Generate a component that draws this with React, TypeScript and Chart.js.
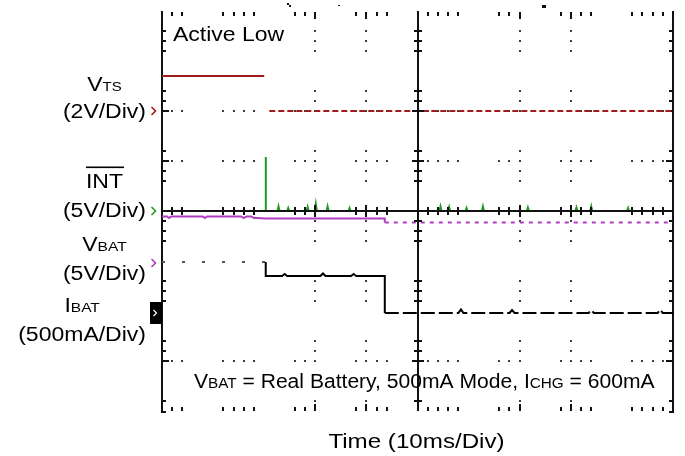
import { useEffect, useRef } from "react";
import { Chart, registerables } from "chart.js";

Chart.register(...registerables);

const WIDTH = 685;
const HEIGHT = 456;
const FONT = '"Liberation Sans", Arial, Helvetica, sans-serif';

// Time base: 10 ms/div over 10 divisions
const TIME_MIN = 0;
const TIME_MAX = 100;

// V_TS (V), 2 V/div
const vtsTime = [0, 20.0, 20.5, 21.0, 100];
const vtsVolts = [1.4, 1.4, null, 0, 0];

// /INT (V), 5 V/div
const intTime = [
  0, 20.3, 20.3, 20.33,
  22.6, 22.8, 23.0, 24.5, 24.7, 24.9, 28.3, 28.5, 28.7, 29.9, 30.1, 30.3,
  32.2, 32.4, 32.6, 36.5, 36.7, 36.9, 54.3, 54.5, 54.7, 56.0, 56.2, 56.4,
  59.4, 59.6, 59.8, 62.6, 62.8, 63.0, 71.4, 71.6, 71.8, 80.9, 81.1, 81.3,
  83.8, 84.0, 84.2, 91.0, 91.2, 91.4, 100,
];
const intVolts = [
  0, 0, 5.4, 0,
  0, 0.45, 0, 0, 0.3, 0, 0, 0.4, 0, 0, 0.7, 0,
  0, 0.45, 0, 0, 0.3, 0, 0, 0.45, 0, 0, 0.4, 0,
  0, 0.3, 0, 0, 0.45, 0, 0, 0.35, 0, 0, 0.35, 0,
  0, 0.45, 0, 0, 0.3, 0, 0,
];

// V_BAT (V), 5 V/div
const vbatTime = [0, 1.0, 1.4, 1.8, 8.0, 8.4, 8.8, 15.5, 16.0, 16.5, 17.5, 18.0, 18.5, 20.3, 43.6, 43.6, 100];
const vbatVolts = [4.65, 4.65, 4.5, 4.65, 4.65, 4.5, 4.65, 4.65, 4.5, 4.65, 4.65, 4.5, 4.5, 4.45, 4.45, 4.05, 4.05];

// I_BAT (mA), 500 mA/div
const ibatTime = [0, 20.3, 20.3, 23.5, 24, 24.5, 31, 31.5, 32, 37, 37.5, 38, 43.6, 43.6, 58, 58.5, 59, 68, 68.5, 69, 83.5, 84, 84.5, 97, 97.5, 98, 100];
const ibatMilliamps = [510, 510, 370, 370, 390, 370, 370, 395, 370, 370, 390, 370, 370, 0, 0, 35, 0, 0, 30, 0, 0, 30, 0, 0, 35, 0, 0];

// Channel settings: units per division and ground level (divisions from screen centre)
const vtsPerDiv = 2;
const vtsGround = 2;
const intPerDiv = 5;
const intGround = 0;
const vbatPerDiv = 5;
const vbatGround = -1.04;
const ibatPerDiv = 500;
const ibatGround = -2.04;

// Channel captions
const channelScaleLabels = ["(2V/Div)", "(5V/Div)", "(5V/Div)", "(500mA/Div)"];
const titleText = "Active Low";
const axisTitle = "Time (10ms/Div)";

const COLORS = {
  vts: "#a01c1c",
  int: "#1f9a1f",
  vbat: "#b03cc0",
  ibat: "#000000",
  grid: "#3c3c3c",
  frame: "#111111",
};

const toPoints = (xs: number[], ys: (number | null)[]) => xs.map((x, i) => ({ x, y: ys[i] }));

const axisRange = (perDiv: number, ground: number) => ({
  min: (-4 - ground) * perDiv,
  max: (4 - ground) * perDiv,
});

// Minor-mark visibility along each axis (sparse dotted graticule)
const showMinorX = (k: number) => {
  const p = 20 / 3;
  return ((((k - 2.5) % p) + p) % p) >= 3;
};
const showMinorY = (j: number) => {
  const p = 6.25;
  return ((((j - 4.7) % p) + p) % p) >= 2.9;
};

type Run = { text: string; size: number };

function runsWidth(ctx: CanvasRenderingContext2D, runs: Run[]) {
  let w = 0;
  for (const r of runs) {
    ctx.font = `${r.size}px ${FONT}`;
    w += ctx.measureText(r.text).width;
  }
  return w;
}

function drawRuns(
  ctx: CanvasRenderingContext2D,
  runs: Run[],
  x: number,
  baseline: number,
  align: "left" | "center" | "right",
  scaleX: number
) {
  const w = runsWidth(ctx, runs) * scaleX;
  const left = align === "left" ? x : align === "center" ? x - w / 2 : x - w;
  ctx.save();
  ctx.translate(left, baseline);
  ctx.scale(scaleX, 1);
  ctx.textAlign = "left";
  ctx.textBaseline = "alphabetic";
  ctx.fillStyle = "#000";
  let cx = 0;
  for (const r of runs) {
    ctx.font = `${r.size}px ${FONT}`;
    ctx.fillText(r.text, cx, 0);
    cx += ctx.measureText(r.text).width;
  }
  ctx.restore();
  return { left, width: w };
}

const scopePlugin = {
  id: "scopeScreen",
  beforeDatasetsDraw(chart: any) {
    const { ctx, chartArea } = chart;
    const { left: L, right: R, top: T, bottom: B } = chartArea;
    const sx = (R - L) / 50;
    const sy = (B - T) / 40;
    const px = (k: number) => Math.round(L + k * sx);
    const py = (j: number) => Math.round(T + j * sy);
    ctx.save();
    // dotted rows and columns
    ctx.fillStyle = COLORS.grid;
    for (let j = 5; j < 40; j += 5) {
      if (j === 20 || !showMinorY(j)) continue;
      for (let k = 1; k < 50; k++) {
        if (k === 25 || !showMinorX(k)) continue;
        ctx.fillRect(px(k) - 1, py(j) - 1, 2, 2);
      }
    }
    for (let k = 5; k < 50; k += 5) {
      if (k === 25 || !showMinorX(k)) continue;
      for (let j = 1; j < 40; j++) {
        if (j === 20 || !showMinorY(j)) continue;
        ctx.fillRect(px(k) - 1, py(j) - 1, 2, 2);
      }
    }
    // frame ticks
    ctx.fillStyle = COLORS.frame;
    for (let k = 1; k < 50; k++) {
      if (!showMinorX(k)) continue;
      const len = k % 5 === 0 ? 7 : 4;
      ctx.fillRect(px(k) - 1, T + 1, 2, len);
      ctx.fillRect(px(k) - 1, B - len, 2, len);
    }
    for (let j = 1; j < 40; j++) {
      if (!showMinorY(j)) continue;
      const len = j % 5 === 0 ? 7 : 4;
      ctx.fillRect(L, py(j) - 1, len, 2);
      ctx.fillRect(R - len, py(j) - 1, len, 2);
    }
    // side frame lines with bottom corners
    ctx.fillRect(Math.round(L) - 1, T, 2, B - T + 2);
    ctx.fillRect(Math.round(R) - 1, T, 2, B - T + 2);
    ctx.fillRect(Math.round(L) - 1, B, 5, 2);
    ctx.fillRect(Math.round(R) - 4, B, 5, 2);
    ctx.restore();
  },
  afterDatasetsDraw(chart: any) {
    const { ctx, chartArea, scales } = chart;
    const { left: L, right: R, top: T, bottom: B } = chartArea;
    const sx = (R - L) / 50;
    const sy = (B - T) / 40;
    const px = (k: number) => Math.round(L + k * sx);
    const py = (j: number) => Math.round(T + j * sy);
    const cx = px(25);
    const cy = py(20);
    ctx.save();
    ctx.fillStyle = COLORS.frame;
    // centre cross
    ctx.fillRect(L, cy - 1, R - L, 2);
    ctx.fillRect(cx - 1, T, 2, B - T);
    for (let k = 1; k < 50; k++) {
      if (!showMinorX(k)) continue;
      const len = k % 5 === 0 ? 6 : 4;
      ctx.fillRect(px(k) - 1, cy - len, 2, 2 * len);
    }
    for (let j = 1; j < 40; j++) {
      if (!showMinorY(j)) continue;
      const len = j % 5 === 0 ? 6 : 4;
      ctx.fillRect(cx - len, py(j) - 1, 2 * len, 2);
    }
    // trigger / cursor marks above the screen
    ctx.fillRect(287, 3, 2, 2);
    ctx.fillRect(289, 5, 2, 2);
    ctx.fillRect(338, 5, 2, 1);
    ctx.fillRect(542, 5, 4, 3);

    // ground markers
    const chevron = (y: number, color: string) => {
      ctx.beginPath();
      ctx.moveTo(151.5, y - 4);
      ctx.lineTo(155.5, y);
      ctx.lineTo(151.5, y + 4);
      ctx.strokeStyle = color;
      ctx.lineWidth = 1.6;
      ctx.stroke();
    };
    chevron(scales.yTS.getPixelForValue(0), COLORS.vts);
    chevron(scales.yINT.getPixelForValue(0), COLORS.int);
    chevron(scales.yVBAT.getPixelForValue(0), COLORS.vbat);
    const yI = scales.yIBAT.getPixelForValue(0);
    ctx.fillStyle = "#000";
    ctx.fillRect(150, Math.round(yI) - 11, 12, 22);
    ctx.beginPath();
    ctx.moveTo(153.5, yI - 3);
    ctx.lineTo(156.5, yI);
    ctx.lineTo(153.5, yI + 3);
    ctx.strokeStyle = "#fff";
    ctx.lineWidth = 1.2;
    ctx.stroke();
    ctx.restore();

    // texts
    const S = 1.15;
    drawRuns(ctx, [{ text: titleText, size: 20 }], 173, 41, "left", S);

    const names: Run[][] = [
      [{ text: "V", size: 20 }, { text: "TS", size: 13 }],
      [{ text: "INT", size: 20 }],
      [{ text: "V", size: 20 }, { text: "BAT", size: 13.5 }],
      [{ text: "I", size: 20 }, { text: "BAT", size: 13.5 }],
    ];
    const nameBase = [91, 188, 251, 312];
    const scaleBase = [118, 217, 280, 341];
    channelScaleLabels.forEach((lab, i) => {
      const r = drawRuns(ctx, [{ text: lab, size: 20 }], 146, scaleBase[i], "right", S);
      const n = drawRuns(ctx, names[i], r.left + r.width / 2, nameBase[i], "center", S);
      if (i === 1) {
        ctx.fillStyle = "#000";
        ctx.fillRect(n.left, 166.5, n.width + 1, 1.6);
      }
    });

    drawRuns(
      ctx,
      [
        { text: "V", size: 20 },
        { text: "BAT", size: 14.5 },
        { text: " = Real Battery, 500mA Mode, I", size: 20 },
        { text: "CHG", size: 14.5 },
        { text: " = 600mA", size: 20 },
      ],
      194,
      388,
      "left",
      1.054
    );
    drawRuns(ctx, [{ text: axisTitle, size: 21 }], 416.5, 448, "center", S);
  },
};

export default function App() {
  const canvasRef = useRef<HTMLCanvasElement | null>(null);

  useEffect(() => {
    const canvas = canvasRef.current;
    if (!canvas) return;

    const dashAfter = (from: number, dash: number[]) => (c: any) =>
      c.p0.parsed.x >= from && c.p1.parsed.x > c.p0.parsed.x ? dash : undefined;

    const chart = new Chart(canvas, {
      type: "line",
      data: {
        datasets: [
          {
            label: "IBAT",
            data: toPoints(ibatTime, ibatMilliamps),
            yAxisID: "yIBAT",
            borderColor: COLORS.ibat,
            borderWidth: 2,
            segment: {
              borderDash: (c: any) => {
                if (c.p1.parsed.x <= 20.3 && c.p0.parsed.x < 20.3) return [3, 17];
                if (c.p0.parsed.x >= 43.6 && c.p1.parsed.x > c.p0.parsed.x) return [14, 4];
                return undefined;
              },
              borderColor: (c: any) => (c.p1.parsed.x <= 20.3 && c.p0.parsed.x < 20.3 ? "#555" : undefined),
            },
          },
          {
            label: "VTS",
            data: toPoints(vtsTime, vtsVolts),
            yAxisID: "yTS",
            borderColor: COLORS.vts,
            borderWidth: 2,
            segment: { borderDash: dashAfter(21, [6, 3]) },
          },
          {
            label: "VBAT",
            data: toPoints(vbatTime, vbatVolts),
            yAxisID: "yVBAT",
            borderColor: COLORS.vbat,
            borderWidth: 2,
            segment: { borderDash: dashAfter(43.6, [4, 5]) },
          },
          {
            label: "INT",
            data: toPoints(intTime, intVolts),
            yAxisID: "yINT",
            borderColor: COLORS.int,
            borderWidth: 2,
          },
        ],
      },
      options: {
        responsive: false,
        animation: false,
        events: [],
        layout: { padding: { left: 162, right: 12, top: 11, bottom: 45 } },
        elements: { point: { radius: 0 }, line: { tension: 0 } },
        scales: {
          x: { type: "linear", min: TIME_MIN, max: TIME_MAX, display: false },
          yTS: { type: "linear", display: false, ...axisRange(vtsPerDiv, vtsGround) },
          yINT: { type: "linear", display: false, ...axisRange(intPerDiv, intGround) },
          yVBAT: { type: "linear", display: false, ...axisRange(vbatPerDiv, vbatGround) },
          yIBAT: { type: "linear", display: false, ...axisRange(ibatPerDiv, ibatGround) },
        },
        plugins: { legend: { display: false }, tooltip: { enabled: false } },
      } as any,
      plugins: [scopePlugin],
    });

    return () => chart.destroy();
  }, []);

  return (
    <div style={{ position: "fixed", left: 0, top: 0, width: WIDTH, height: HEIGHT, background: "#fff" }}>
      <canvas ref={canvasRef} width={WIDTH} height={HEIGHT} style={{ width: WIDTH, height: HEIGHT, display: "block" }} />
    </div>
  );
}
